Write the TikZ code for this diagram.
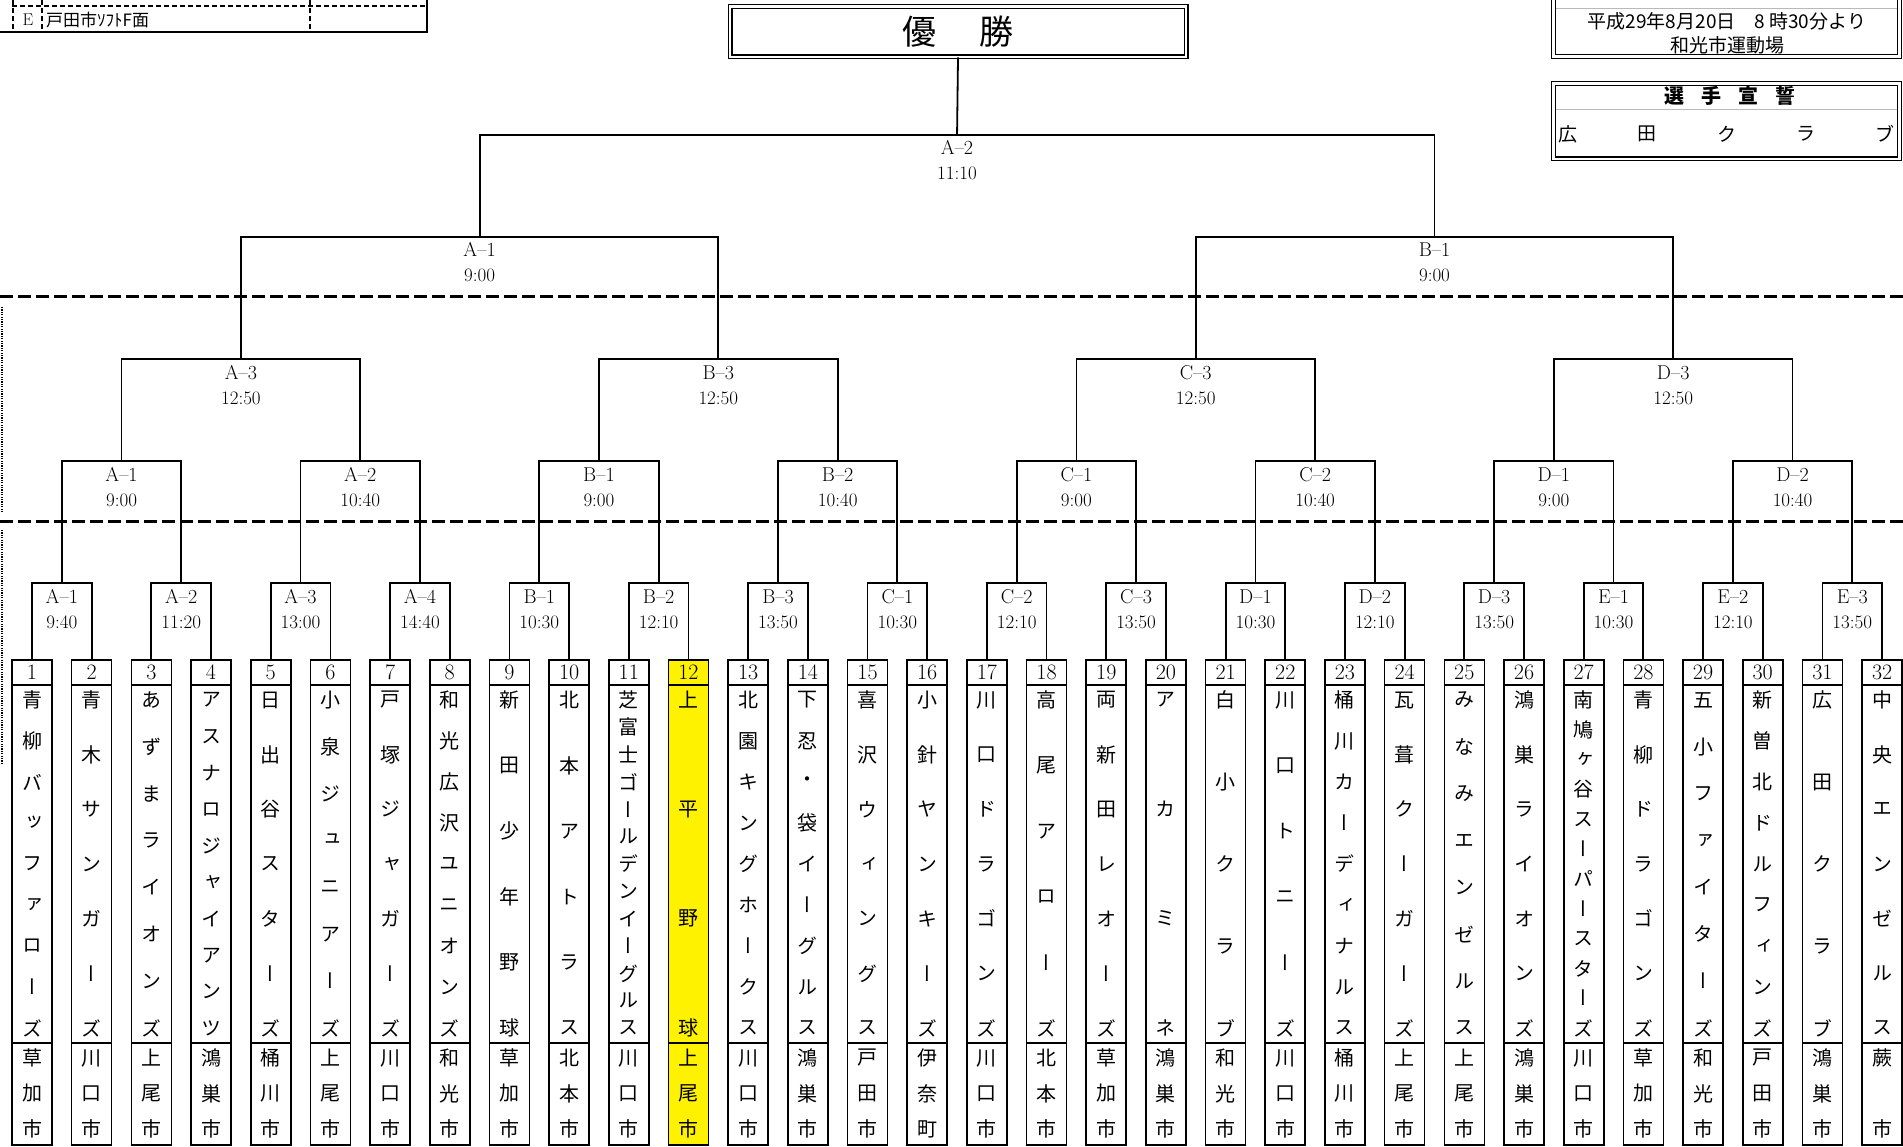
\documentclass[tikz,border=0pt]{standalone}
\usepackage{fontspec}
\newfontfamily\jpfont{Noto Sans CJK JP}
\newfontfamily\jpv[RawFeature=+vert]{Noto Sans CJK JP}
\newcommand\team[4][white]{%
  \pgfmathsetmacro\tx{32+(#2-1)*59.68}%
  \node[numcell, fill=#1] (n#2) at (\tx,672.5) {#2};
  \node[namecell, fill=#1] (m#2) at (\tx,864) {};
  \node[citycell, fill=#1] (k#2) at (\tx,1094) {};
  \foreach \ch [count=\q] in {#3} {\xdef\vnum{\q}}%
  \foreach \ch [count=\q from 0] in {#3} {%
    \pgfmathsetmacro\yy{700+\q*328/(\vnum-1)}%
    \node[jch] (m#2-\q) at (\tx,\yy) {\ch};}%
  \foreach \ch [count=\q] in {#4} {\xdef\vnum{\q}}%
  \foreach \ch [count=\q from 0] in {#4} {%
    \pgfmathsetmacro\yy{1058+\q*71/(\vnum-1)}%
    \node[jch] (k#2-\q) at (\tx,\yy) {\ch};}%
}
\begin{document}
\begin{tikzpicture}[x=1pt,y=-1pt,
  bline/.style={line width=1.8pt},
  teamcell/.style={draw, line width=1.6pt, minimum width=40pt, inner sep=0pt, anchor=center},
  numcell/.style={teamcell, minimum height=25pt, font=\fontsize{22}{22}\selectfont},
  namecell/.style={teamcell, minimum height=358pt},
  citycell/.style={teamcell, minimum height=102pt},
  jch/.style={inner sep=0pt, font=\jpv\fontsize{20}{20}\selectfont},
  lbl/.style={inner sep=0pt, anchor=base, font=\fontsize{20}{20}\selectfont},
  tim/.style={inner sep=0pt, anchor=base, font=\fontsize{19}{19}\selectfont},
  sep/.style={line width=3pt, dash pattern=on 13pt off 5pt},
  dbl/.style={draw, double, double distance=2.6pt, line width=1.2pt, inner sep=0pt},
  jtxt/.style={inner sep=0pt, font=\jpfont\fontsize{19}{19}\selectfont},
]
\useasboundingbox (0,0) rectangle (1903,1147);
\clip (0,0) rectangle (1903,1147);

% ---------- top-left table fragment ----------
\draw[line width=1.4pt, dash pattern=on 5pt off 3pt] (12,6) -- (427,6);
\draw[line width=1.4pt, dash pattern=on 5pt off 3pt] (13,0) -- (13,32);
\draw[line width=1.4pt, dash pattern=on 5pt off 3pt] (42,0) -- (42,32);
\draw[line width=1.4pt, dash pattern=on 5pt off 3pt] (310,0) -- (310,32);
\draw[line width=1.6pt] (0,32) -- (427,32) -- (427,0);
\node[inner sep=0pt, font=\fontsize{17}{17}\selectfont] (tE) at (28,20) {E};
\node[inner sep=0pt, anchor=west, font=\jpfont\fontsize{17}{17}\selectfont] (tF) at (46,20) {戸田市ｿﾌﾄF面};

% ---------- dotted edge lines ----------
\draw[line width=1.6pt, dash pattern=on 1.2pt off 1.2pt] (2,307) -- (2,512);
\draw[line width=1.6pt, dash pattern=on 1.2pt off 1.2pt] (2,530) -- (2,763);

% ---------- dashed separators ----------
\draw[sep] (0,297) -- (1903,297);
\draw[sep] (0,521) -- (1903,521);

% ---------- top-right boxes ----------
\node[dbl, minimum width=346pt, minimum height=72.5pt] (info) at (1726.5,20.25) {};
\draw[gray!55, line width=0.8pt] (1556,8) -- (1897,8);
\node[jtxt] (date) at (1727,21) {平成29年8月20日　8 時30分より};
\node[jtxt] (place) at (1727,45) {和光市運動場};

\node[dbl, minimum width=346pt, minimum height=75.5pt] (oath) at (1726.5,121.25) {};
\draw[gray!55, line width=0.8pt] (1556,109) -- (1897,109);
\node[jtxt, font=\jpfont\bfseries\fontsize{20}{20}\selectfont] (oathT) at (1730,96) {選\hspace{17pt}手\hspace{17pt}宣\hspace{17pt}誓};
\foreach \ch [count=\q from 0] in {広,田,ク,ラ,ブ} {
  \node[jtxt] (oath\q) at (1568+\q*79.3,134) {\ch};}

% ---------- champion box ----------
\node[dbl, minimum width=456pt, minimum height=50.3pt] (win) at (958,31.7)
  {\jpfont\fontsize{34}{34}\selectfont 優\hspace{43pt}勝};

% ---------- teams ----------
\team{1}{青,柳,バ,ッ,フ,ァ,ロ,ー,ズ}{草,加,市}
\team{2}{青,木,サ,ン,ガ,ー,ズ}{川,口,市}
\team{3}{あ,ず,ま,ラ,イ,オ,ン,ズ}{上,尾,市}
\team{4}{ア,ス,ナ,ロ,ジ,ャ,イ,ア,ン,ツ}{鴻,巣,市}
\team{5}{日,出,谷,ス,タ,ー,ズ}{桶,川,市}
\team{6}{小,泉,ジ,ュ,ニ,ア,ー,ズ}{上,尾,市}
\team{7}{戸,塚,ジ,ャ,ガ,ー,ズ}{川,口,市}
\team{8}{和,光,広,沢,ユ,ニ,オ,ン,ズ}{和,光,市}
\team{9}{新,田,少,年,野,球}{草,加,市}
\team{10}{北,本,ア,ト,ラ,ス}{北,本,市}
\team{11}{芝,富,士,ゴ,ー,ル,デ,ン,イ,ー,グ,ル,ス}{川,口,市}
\team[yellow]{12}{上,平,野,球}{上,尾,市}
\team{13}{北,園,キ,ン,グ,ホ,ー,ク,ス}{川,口,市}
\team{14}{下,忍,・,袋,イ,ー,グ,ル,ス}{鴻,巣,市}
\team{15}{喜,沢,ウ,ィ,ン,グ,ス}{戸,田,市}
\team{16}{小,針,ヤ,ン,キ,ー,ズ}{伊,奈,町}
\team{17}{川,口,ド,ラ,ゴ,ン,ズ}{川,口,市}
\team{18}{高,尾,ア,ロ,ー,ズ}{北,本,市}
\team{19}{両,新,田,レ,オ,ー,ズ}{草,加,市}
\team{20}{ア,カ,ミ,ネ}{鴻,巣,市}
\team{21}{白,小,ク,ラ,ブ}{和,光,市}
\team{22}{川,口,ト,ニ,ー,ズ}{川,口,市}
\team{23}{桶,川,カ,ー,デ,ィ,ナ,ル,ス}{桶,川,市}
\team{24}{瓦,葺,ク,ー,ガ,ー,ズ}{上,尾,市}
\team{25}{み,な,み,エ,ン,ゼ,ル,ス}{上,尾,市}
\team{26}{鴻,巣,ラ,イ,オ,ン,ズ}{鴻,巣,市}
\team{27}{南,鳩,ヶ,谷,ス,ー,パ,ー,ス,タ,ー,ズ}{川,口,市}
\team{28}{青,柳,ド,ラ,ゴ,ン,ズ}{草,加,市}
\team{29}{五,小,フ,ァ,イ,タ,ー,ズ}{和,光,市}
\team{30}{新,曽,北,ド,ル,フ,ィ,ン,ズ}{戸,田,市}
\team{31}{広,田,ク,ラ,ブ}{鴻,巣,市}
\team{32}{中,央,エ,ン,ゼ,ル,ス}{蕨,市}

% ---------- bracket coordinates ----------
\foreach \j in {1,...,16} {\pgfmathsetmacro\xx{32+(2*\j-1.5)*59.68}\coordinate (a\j) at (\xx,583);}
\foreach \j in {1,...,8} {\pgfmathsetmacro\xx{32+(4*\j-2.5)*59.68}\coordinate (b\j) at (\xx,461);}
\foreach \j in {1,...,4} {\pgfmathsetmacro\xx{32+(8*\j-4.5)*59.68}\coordinate (c\j) at (\xx,359);}
\foreach \j in {1,2} {\pgfmathsetmacro\xx{32+(16*\j-8.5)*59.68}\coordinate (d\j) at (\xx,237);}
\coordinate (e) at ({32+15.5*59.68},135);

% ---------- bracket lines ----------
\foreach \j in {1,...,16} {\pgfmathtruncatemacro\l{2*\j-1}\pgfmathtruncatemacro\r{2*\j}
  \draw[bline] (n\l.north) |- (a\j) -| (n\r.north);}
\foreach \j in {1,...,8} {\pgfmathtruncatemacro\l{2*\j-1}\pgfmathtruncatemacro\r{2*\j}
  \draw[bline] (a\l) |- (b\j) -| (a\r);}
\foreach \j in {1,...,4} {\pgfmathtruncatemacro\l{2*\j-1}\pgfmathtruncatemacro\r{2*\j}
  \draw[bline] (b\l) |- (c\j) -| (b\r);}
\foreach \j in {1,2} {\pgfmathtruncatemacro\l{2*\j-1}\pgfmathtruncatemacro\r{2*\j}
  \draw[bline] (c\l) |- (d\j) -| (c\r);}
\draw[bline] (d1) |- (e) -| (d2);
\draw[bline] (e) -- (win.south);

% ---------- match labels ----------
\foreach \lab/\tm [count=\j] in {A--1/9:40, A--2/11:20, A--3/13:00, A--4/14:40, B--1/10:30, B--2/12:10, B--3/13:50, C--1/10:30, C--2/12:10, C--3/13:50, D--1/10:30, D--2/12:10, D--3/13:50, E--1/10:30, E--2/12:10, E--3/13:50} {
  \path (a\j) ++(0,20) node[lbl] (la\j) {\lab};
  \path (a\j) ++(0,45) node[tim] (ta\j) {\tm};}
\foreach \lab/\tm [count=\j] in {A--1/9:00, A--2/10:40, B--1/9:00, B--2/10:40, C--1/9:00, C--2/10:40, D--1/9:00, D--2/10:40} {
  \path (b\j) ++(0,20) node[lbl] (lb\j) {\lab};
  \path (b\j) ++(0,45) node[tim] (tb\j) {\tm};}
\foreach \lab/\tm [count=\j] in {A--3/12:50, B--3/12:50, C--3/12:50, D--3/12:50} {
  \path (c\j) ++(0,20) node[lbl] (lc\j) {\lab};
  \path (c\j) ++(0,45) node[tim] (tc\j) {\tm};}
\foreach \lab/\tm [count=\j] in {A--1/9:00, B--1/9:00} {
  \path (d\j) ++(0,20) node[lbl] (ld\j) {\lab};
  \path (d\j) ++(0,45) node[tim] (td\j) {\tm};}
\path (e) ++(0,20) node[lbl] (le) {A--2};
\path (e) ++(0,45) node[tim] (te) {11:10};
\end{tikzpicture}
\end{document}
